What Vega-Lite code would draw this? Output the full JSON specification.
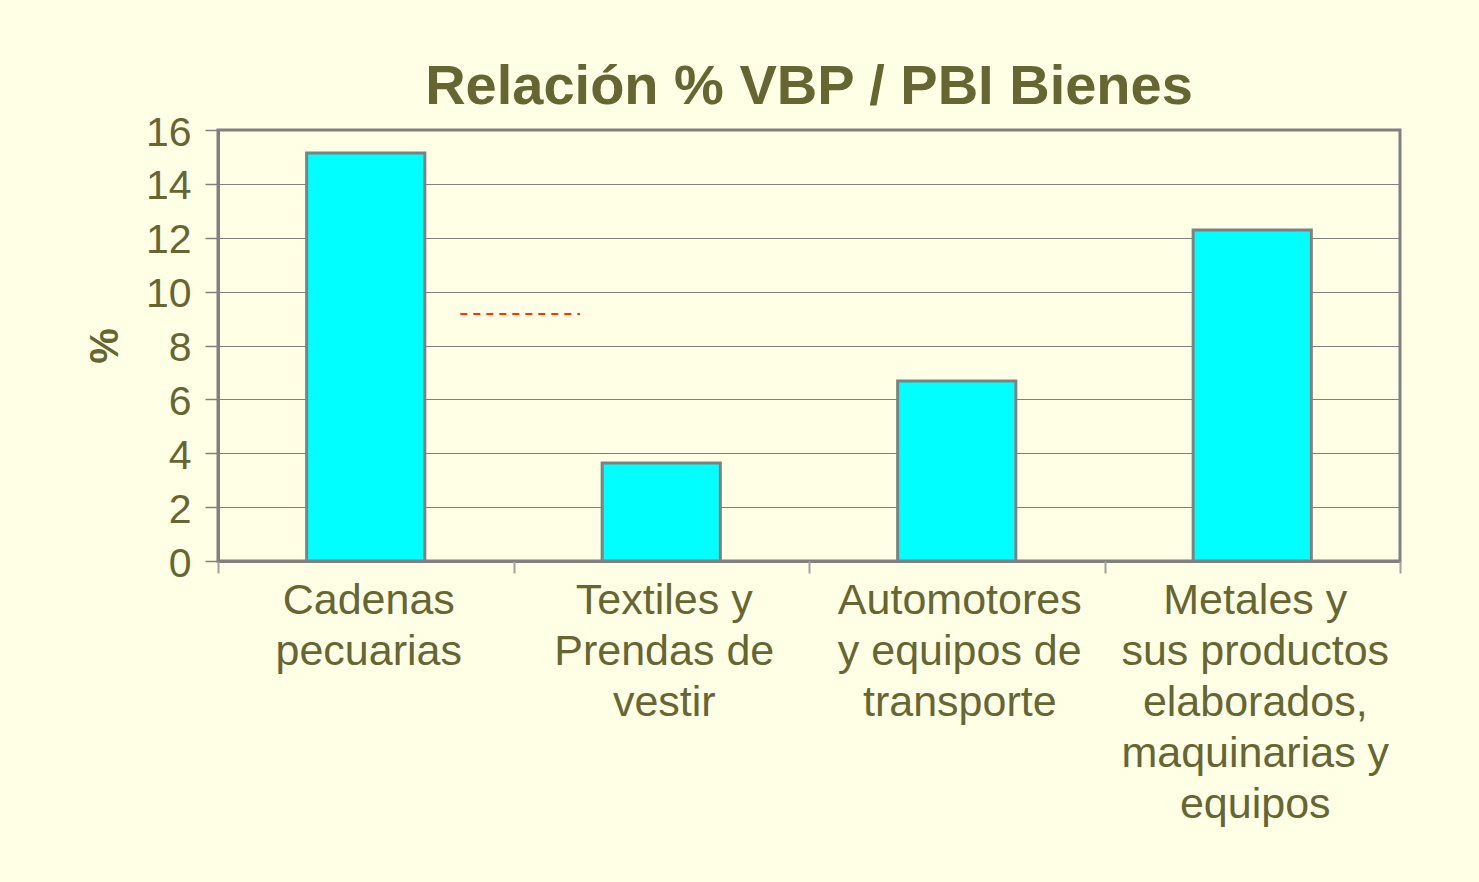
{
  "$schema": "https://vega.github.io/schema/vega-lite/v6.json",
  "width": 1182,
  "height": 431,
  "autosize": {"type": "none"},
  "padding": {"left": 218, "top": 130, "right": 79, "bottom": 321},
  "background": "#FFFFE5",
  "title": {"text": "Relación % VBP / PBI Bienes", "fontSize": 56, "font": "Liberation Sans", "fontWeight": "bold", "color": "#666633", "anchor": "middle", "offset": -4},
  "config": {"view": {"stroke": "#808080", "strokeWidth": 3}, "font": "Liberation Sans"},
  "layer": [
    {
      "data": {"values": [
        {"sector": "Cadenas|pecuarias", "valor": 15.15},
        {"sector": "Textiles y|Prendas de|vestir", "valor": 3.64},
        {"sector": "\u00a0\u00a0\u00a0Automotores|y equipos de|transporte", "valor": 6.68},
        {"sector": "Metales y|sus productos|elaborados,|maquinarias y|equipos", "valor": 12.29}
      ]},
      "mark": {"type": "bar", "fill": "#00FFFF", "stroke": "#808080", "strokeWidth": 3},
      "encoding": {
        "x": {"field": "sector", "type": "nominal", "sort": null,
          "scale": {"paddingInner": 0.6, "paddingOuter": 0.3},
          "axis": {"title": null, "labelAngle": 0, "labelExpr": "split(datum.value, '|')", "ticks": false, "domainColor": "#808080", "domainWidth": 3, "labelFontSize": 43, "labelColor": "#666633", "labelLineHeight": 51, "labelPadding": 18, "labelLimit": 500, "labelFont": "Liberation Sans", "labelOffset": 3}},
        "y": {"field": "valor", "type": "quantitative", "scale": {"domain": [0, 16]},
          "axis": {"values": [0, 2, 4, 6, 8, 10, 12, 14, 16], "title": "%", "titleFontSize": 40, "titleFontWeight": "bold", "titleColor": "#666633", "titlePadding": 20, "labelFontSize": 41, "labelColor": "#666633", "labelPadding": 14, "labelOffset": 3, "tickSize": 13, "tickColor": "#808080", "tickWidth": 1.5, "gridColor": "#808080", "gridWidth": 1, "gridOpacity": 1, "domainColor": "#808080", "domainWidth": 3, "labelFont": "Liberation Sans", "titleFont": "Liberation Sans"}}
      }
    },
    {
      "data": {"values": [{"x1": 0.82, "x2": 1.225, "y": 9.17}]},
      "mark": {"type": "rule", "color": "#FF3300", "strokeDash": [7, 6], "strokeWidth": 2},
      "encoding": {
        "x": {"field": "x1", "type": "quantitative", "scale": {"domain": [0, 4], "nice": false},
          "axis": {"orient": "bottom", "values": [0, 1, 2, 3, 4], "labels": false, "domain": false, "grid": false, "title": null, "tickSize": 12, "tickColor": "#A0A0A0", "tickWidth": 2, "offset": 0}},
        "x2": {"field": "x2"},
        "y": {"field": "y", "type": "quantitative"}
      }
    }
  ],
  "resolve": {"scale": {"x": "independent"}}
}
